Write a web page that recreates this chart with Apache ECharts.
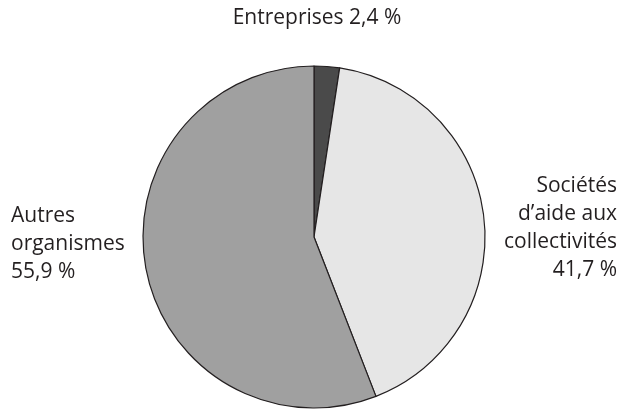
<!doctype html>
<html>
<head>
    <meta charset="utf-8">
    <title>Répartition</title>
    <script src="https://cdn.jsdelivr.net/npm/echarts@6/dist/echarts.min.js"></script>
    <style>
        html, body { margin: 0; padding: 0; background: #fff; }
    </style>
</head>
<body>
<div id="chart" style="width: 625px; height: 411px;"></div>
<script type="text/javascript">

    var names = ['Entreprises', 'Sociétés\nd\u2019aide aux\ncollectivités', 'Autres\norganismes'];
    var values = [2.4, 41.7, 55.9];
    var valueText = ['2,4 %', '41,7 %', '55,9 %'];
    var colors = ['#4a4a4a', '#e6e6e6', '#a0a0a0'];

    // where each label sits (x, y, alignment)
    var labelPos = [
        {x: 317, y: 18, align: 'center'},
        {x: 617, y: 228, align: 'right'},
        {x: 11, y: 244, align: 'left'}
    ];

    var data = [];
    for (var i = 0; i < names.length; i++) {
        data.push({
            name: names[i],
            value: values[i],
            itemStyle: {color: colors[i]}
        });
    }

    var myChart = echarts.init(document.getElementById('chart'));

    var option = {
        animation: false,
        series: [{
            type: 'pie',
            radius: 171,
            center: [314, 237],
            startAngle: 90,
            clockwise: true,
            data: data,
            itemStyle: {
                borderColor: '#231f20',
                borderWidth: 1.2
            },
            label: {
                show: true,
                color: '#231f20',
                fontFamily: 'Open Sans',
                fontSize: 21,
                lineHeight: 28,
                overflow: 'none',
                formatter: function (p) {
                    if (p.dataIndex === 0) return p.name + ' ' + valueText[0];
                    return p.name + '\n' + valueText[p.dataIndex];
                }
            },
            labelLine: {show: false},
            labelLayout: function (params) {
                var pos = labelPos[params.dataIndex];
                return {
                    x: pos.x,
                    y: pos.y,
                    align: pos.align,
                    verticalAlign: 'middle',
                    width: 300
                };
            }
        }]
    };

    myChart.setOption(option);

</script>
</body>
</html>
